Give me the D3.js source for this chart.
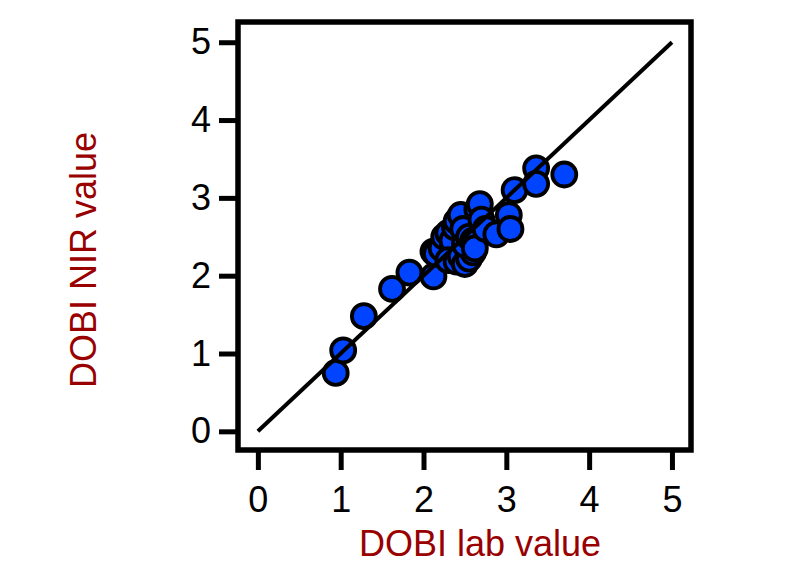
<!DOCTYPE html>
<html>
<head>
<meta charset="utf-8">
<script src="https://cdn.jsdelivr.net/npm/d3@7"></script>
<style>
  html, body { margin: 0; padding: 0; background: #fff; }
  svg { display: block; }
  text { font-family: Arimo, "Liberation Sans", Arial, sans-serif; }
</style>
</head>
<body>
<svg id="chart" width="800" height="565"></svg>
<script>
// DOBI lab value (x) vs DOBI NIR value (y)
const labValues = [0.94, 1.03, 1.28, 1.62, 1.83, 2.12, 2.12, 2.15, 2.22, 2.25, 2.30, 2.35, 2.38, 2.40, 2.45, 2.48,
                   2.30, 2.40, 2.45, 2.50, 2.55, 2.60, 2.50, 2.55, 2.60, 2.62, 2.65, 2.68, 2.70, 2.75, 2.88,
                   3.03, 3.05, 3.10, 3.36, 3.36, 3.70];
const nirValues = [0.75, 1.04, 1.48, 1.83, 2.04, 1.99, 2.31, 2.28, 2.35, 2.50, 2.55, 2.45, 2.62, 2.70, 2.78, 2.60,
                   2.20, 2.18, 2.25, 2.15, 2.22, 2.30, 2.40, 2.50, 2.45, 2.35, 2.85, 2.92, 2.72, 2.60, 2.53,
                   2.78, 2.60, 3.10, 3.38, 3.18, 3.30];
const tickValues = [0, 1, 2, 3, 4, 5];
const identityLine = [0, 5];
const xTitle = "DOBI lab value";
const yTitle = "DOBI NIR value";

const svg = d3.select("#chart");
const plotLeft = 238, plotRight = 691, plotTop = 22, plotBottom = 450;

const x = d3.scaleLinear().domain([-0.24, 5.23]).range([plotLeft, plotRight]);
const y = d3.scaleLinear().domain([-0.24, 5.26]).range([plotBottom, plotTop]);

const points = labValues.map((v, i) => ({ x: v, y: nirValues[i] }));

// points
svg.append("g")
  .selectAll("circle")
  .data(points)
  .join("circle")
  .attr("cx", d => x(d.x))
  .attr("cy", d => y(d.y))
  .attr("r", 12)
  .attr("fill", "#0044ff")
  .attr("stroke", "#000")
  .attr("stroke-width", 3.8);

// identity line
svg.append("line")
  .attr("x1", x(identityLine[0])).attr("y1", y(identityLine[0]))
  .attr("x2", x(identityLine[1])).attr("y2", y(identityLine[1]))
  .attr("stroke", "#000").attr("stroke-width", 4);

// frame
svg.append("rect")
  .attr("x", plotLeft).attr("y", plotTop)
  .attr("width", plotRight - plotLeft).attr("height", plotBottom - plotTop)
  .attr("fill", "none").attr("stroke", "#000").attr("stroke-width", 5.5);

// axes
const xAxis = svg.append("g")
  .attr("transform", `translate(0,${plotBottom})`)
  .call(d3.axisBottom(x).tickValues(tickValues).tickFormat(d3.format("d")).tickSize(20).tickPadding(16));
const yAxis = svg.append("g")
  .attr("transform", `translate(${plotLeft},0)`)
  .call(d3.axisLeft(y).tickValues(tickValues).tickFormat(d3.format("d")).tickSize(19).tickPadding(8));

[xAxis, yAxis].forEach(g => {
  g.select(".domain").remove();
  g.selectAll(".tick line").attr("stroke", "#000").attr("stroke-width", 5);
  g.selectAll(".tick text")
    .attr("fill", "#000")
    .style("font-family", "Arimo, 'Liberation Sans', Arial, sans-serif")
    .style("font-size", "36px");
});

// titles
svg.append("text")
  .attr("x", 480).attr("y", 556)
  .attr("text-anchor", "middle")
  .attr("fill", "#990000")
  .style("font-size", "36px")
  .text(xTitle);

svg.append("text")
  .attr("transform", "translate(96,260) rotate(-90)")
  .attr("text-anchor", "middle")
  .attr("fill", "#990000")
  .style("font-size", "36px")
  .text(yTitle);
</script>
</body>
</html>
